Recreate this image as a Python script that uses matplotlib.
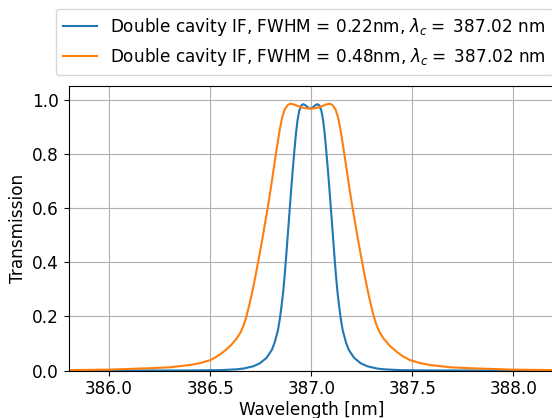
import matplotlib
matplotlib.use("Agg")
import matplotlib.pyplot as plt

# wavelength [nm] / transmission, FWHM 0.22 nm filter
wl_narrow = [385.80, 386.40, 386.55, 386.63, 386.665, 386.712, 386.745, 386.778,
             386.805, 386.819, 386.835, 386.844, 386.852, 386.86, 386.868, 386.876,
             386.884, 386.892, 386.90, 386.908, 386.916, 386.924, 386.932, 386.94,
             386.95, 386.96, 386.971, 386.983, 386.995,
             387.007, 387.019, 387.03, 387.04, 387.05, 387.058, 387.066, 387.074,
             387.082, 387.09, 387.098, 387.106, 387.114, 387.122, 387.13, 387.138,
             387.146, 387.155, 387.171, 387.185, 387.212, 387.245, 387.278, 387.325,
             387.36, 387.44, 387.59, 388.20]
tr_narrow = [0.000, 0.001, 0.002, 0.005, 0.008, 0.016, 0.027, 0.047,
             0.077, 0.105, 0.150, 0.190, 0.235, 0.285, 0.350, 0.425,
             0.505, 0.585, 0.665, 0.740, 0.810, 0.875, 0.925, 0.958,
             0.978, 0.983, 0.979, 0.971, 0.967,
             0.971, 0.979, 0.983, 0.978, 0.958, 0.925, 0.875, 0.810,
             0.740, 0.665, 0.585, 0.505, 0.425, 0.350, 0.285, 0.235,
             0.190, 0.150, 0.105, 0.077, 0.047, 0.027, 0.016, 0.008,
             0.005, 0.002, 0.001, 0.000]

# FWHM 0.48 nm filter
wl_wide = [385.80, 386.00, 386.20, 386.30, 386.40, 386.45, 386.50, 386.53,
           386.563, 386.60, 386.63, 386.649, 386.664, 386.679, 386.694, 386.709,
           386.724, 386.739, 386.754, 386.769, 386.784, 386.799, 386.814, 386.829,
           386.844, 386.856, 386.869, 386.884, 386.897, 386.914, 386.944, 386.969,
           386.994, 387.019, 387.044, 387.074, 387.091, 387.104, 387.119, 387.132,
           387.144, 387.159, 387.174, 387.189, 387.204, 387.219, 387.234, 387.249,
           387.264, 387.279, 387.294, 387.309, 387.324, 387.339, 387.358, 387.388,
           387.425, 387.455, 387.488, 387.538, 387.588, 387.688, 387.788, 387.988,
           388.20]
tr_wide = [0.002, 0.004, 0.009, 0.0125, 0.021, 0.028, 0.039, 0.051,
           0.068, 0.092, 0.118, 0.140, 0.165, 0.200, 0.245, 0.295,
           0.350, 0.410, 0.470, 0.535, 0.600, 0.670, 0.745, 0.820,
           0.890, 0.935, 0.965, 0.980, 0.985, 0.982, 0.973, 0.968,
           0.967, 0.968, 0.973, 0.982, 0.985, 0.980, 0.965, 0.935,
           0.890, 0.820, 0.745, 0.670, 0.600, 0.535, 0.470, 0.410,
           0.350, 0.295, 0.245, 0.200, 0.165, 0.140, 0.118, 0.092,
           0.068, 0.052, 0.039, 0.028, 0.021, 0.0125, 0.009, 0.004,
           0.002]

labels = [r"Double cavity IF, FWHM = 0.22nm, $\lambda_c = $ 387.02 nm",
          r"Double cavity IF, FWHM = 0.48nm, $\lambda_c = $ 387.02 nm"]

plt.rcParams["font.size"] = 12.15

fig = plt.figure(figsize=(5.52, 4.18), dpi=100)
ax = fig.add_axes([0.1245, 0.1132, 0.879, 0.681])
ax.plot(wl_narrow, tr_narrow, color="#1f77b4", lw=1.5, label=labels[0])
ax.plot(wl_wide, tr_wide, color="#ff7f0e", lw=1.5, label=labels[1])
ax.set_xlim(385.8, 388.2)
ax.set_ylim(0, 1.05)
ax.set_xticks([386.0, 386.5, 387.0, 387.5, 388.0])
ax.set_yticks([0.0, 0.2, 0.4, 0.6, 0.8, 1.0])
ax.grid(True)
ax.set_xlabel("Wavelength [nm]", labelpad=2)
ax.set_ylabel("Transmission")

fig.legend(loc="upper left", bbox_to_anchor=(56 / 552, 1 - 9 / 418),
           borderaxespad=0)

fig.savefig("out.png", dpi=100)
